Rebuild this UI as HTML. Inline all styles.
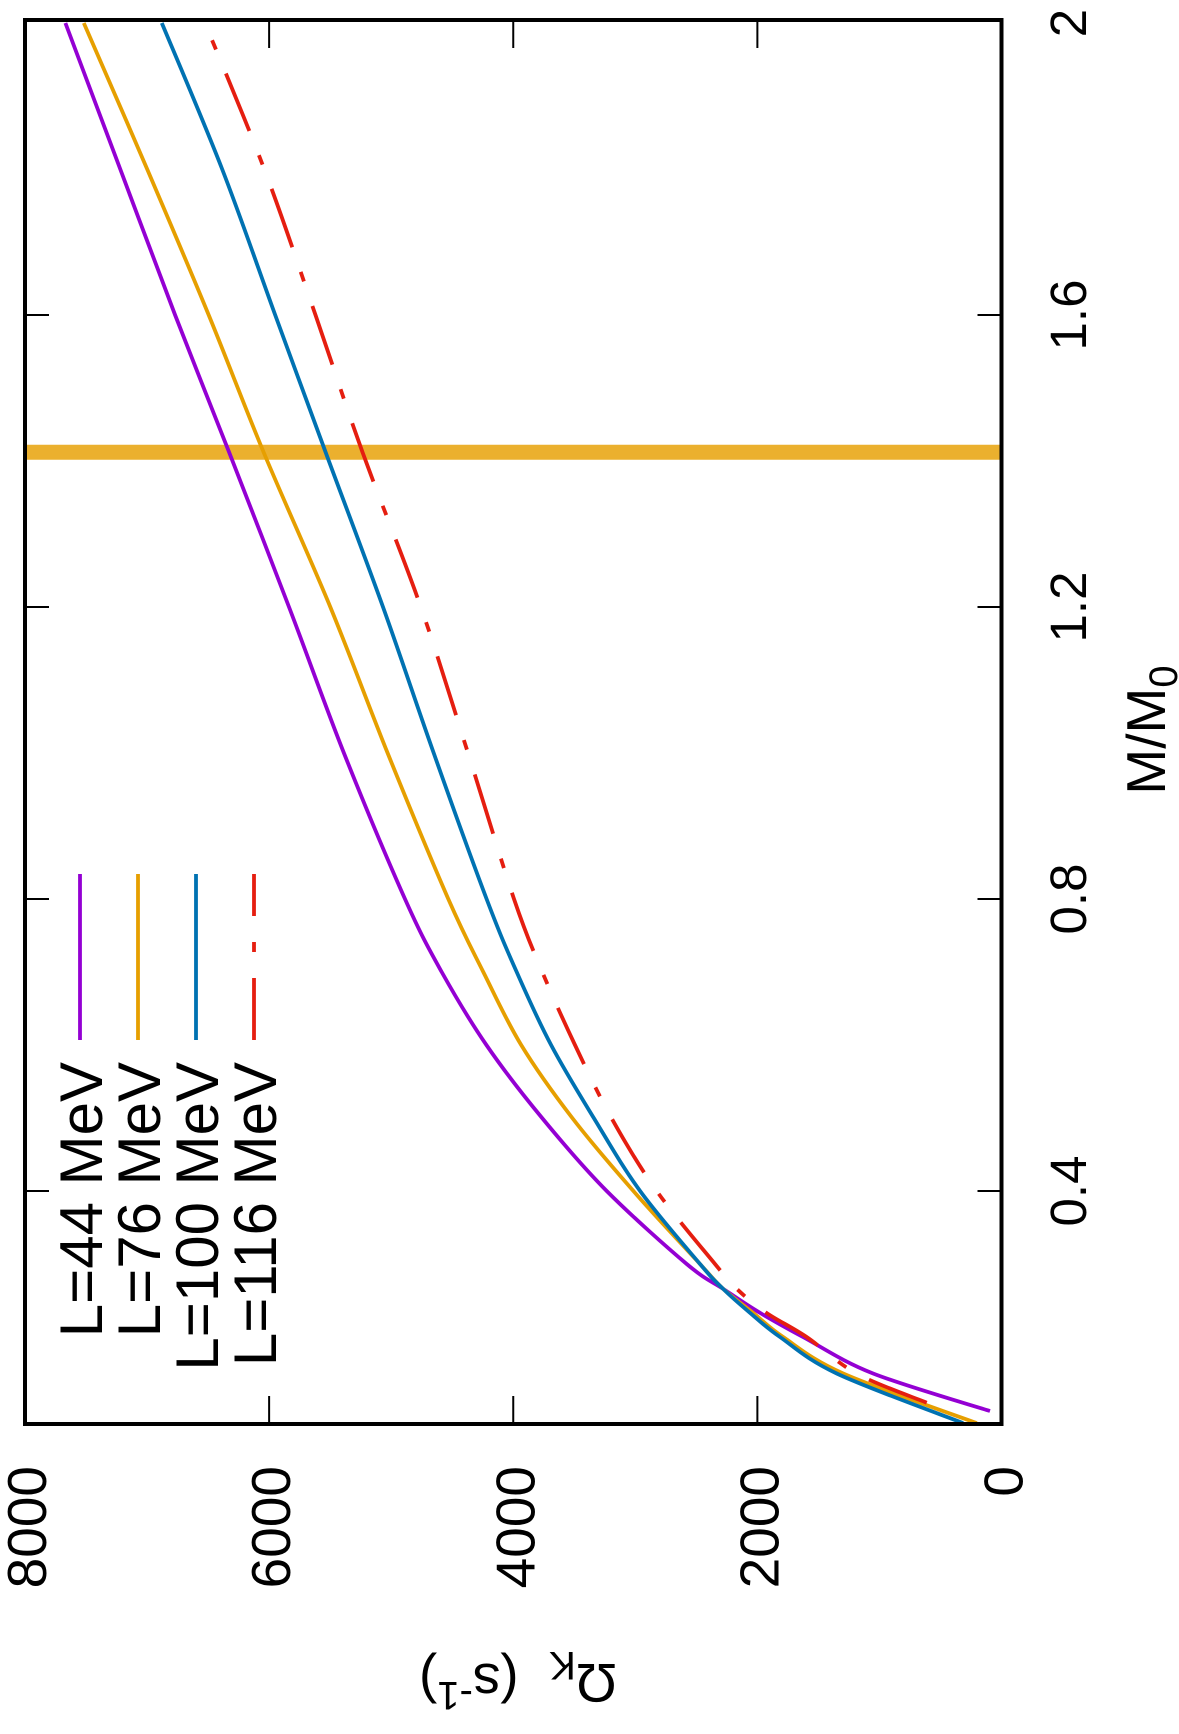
<!DOCTYPE html>
<html><head><meta charset="utf-8"><style>
html,body{margin:0;padding:0;background:#fff}
svg{display:block;font-family:"Liberation Sans",sans-serif}
</style></head><body>
<svg id="chart" width="1179" height="1734" viewBox="0 0 1179 1734" xmlns="http://www.w3.org/2000/svg"></svg>
<script>
const massesL44=[0.0986,0.15,0.2,0.233,0.266,0.3,0.4,0.5,0.6,0.7,0.8,1.0,1.2,1.412,1.6,1.8,2.0];
const omegaL44=[94,1052,1626,1978,2281,2579,3234,3764,4220,4586,4887,5387,5837,6328,6770,7220,7669];
const massesL76=[0.082,0.15,0.2,0.233,0.266,0.3,0.4,0.5,0.6,0.7,0.8,1.0,1.2,1.412,1.6,1.8,2.0];
const omegaL76=[202,1297,1789,2035,2281,2470,3016,3516,3935,4245,4532,5029,5499,6045,6495,7000,7518];
const massesL100=[0.082,0.15,0.2,0.233,0.266,0.3,0.4,0.5,0.6,0.7,0.8,1.0,1.2,1.412,1.6,1.8,2.0];
const omegaL100=[315,1350,1815,2060,2281,2470,2961,3340,3690,3972,4218,4652,5067,5537,5950,6385,6879];
const massesL116=[0.11,0.15,0.2,0.233,0.266,0.3,0.4,0.5,0.6,0.7,0.8,1.0,1.2,1.412,1.6,1.8,2.0];
const omegaL116=[613,1188,1597,1925,2169,2347,2825,3195,3494,3762,3994,4371,4757,5235,5620,6040,6525];
const omegaTicks=[0,2000,4000,6000,8000];
const massTicks=[0.4,0.8,1.2,1.6,2];
const massTickLabels=["0.4","0.8","1.2","1.6","2"];
const seriesNames=["L=44 MeV","L=76 MeV","L=100 MeV","L=116 MeV"];
const markerMass=1.412;

const NS="http://www.w3.org/2000/svg";
const svg=document.getElementById('chart');
const L=25,R=1001.5,T=20,B=1424;
function X(o){return R-o*(R-L)/8000;}
function Y(m){return 1191-(m-0.4)*730;}
function el(t,a){const e=document.createElementNS(NS,t);for(const k in a)e.setAttribute(k,a[k]);svg.appendChild(e);return e;}
function smooth(pts){
  let d='M'+pts[0][0].toFixed(1)+','+pts[0][1].toFixed(1);
  for(let i=0;i<pts.length-1;i++){
    const p0=pts[Math.max(0,i-1)],p1=pts[i],p2=pts[i+1],p3=pts[Math.min(pts.length-1,i+2)];
    const c1=[p1[0]+(p2[0]-p0[0])/6,p1[1]+(p2[1]-p0[1])/6];
    const c2=[p2[0]-(p3[0]-p1[0])/6,p2[1]-(p3[1]-p1[1])/6];
    d+='C'+c1[0].toFixed(1)+','+c1[1].toFixed(1)+' '+c2[0].toFixed(1)+','+c2[1].toFixed(1)+' '+p2[0].toFixed(1)+','+p2[1].toFixed(1);
  }
  return d;
}

const band=el('line',{x1:L,x2:R,y1:Y(markerMass),y2:Y(markerMass),stroke:'#ebb02e','stroke-width':15});



const colors=['#9400d3','#e69f00','#0072b2','#e51e10'];
const data=[[massesL44,omegaL44],[massesL76,omegaL76],[massesL100,omegaL100],[massesL116,omegaL116]];
const ids=['curve-l44','curve-l76','curve-l100','curve-l116'];
data.forEach((d,i)=>{
  const pts=d[0].map((m,j)=>[X(d[1][j]),Y(m)]);
  const a={d:smooth(pts),fill:'none',stroke:colors[i],'stroke-width':3.8,'stroke-linejoin':'round'};
  if(i==3)a['stroke-dasharray']='62 26 10 26';
  const e=el('path',a);
  
  
});

const fr=el('rect',{x:L,y:T,width:R-L,height:B-T,fill:'none',stroke:'#000','stroke-width':4});



omegaTicks.forEach(o=>{
  const x=X(o);
  if(o>0&&o<8000){
    const t1=el('line',{x1:x,x2:x,y1:B,y2:B-28,stroke:'#000','stroke-width':2});
    
    
    const t2=el('line',{x1:x,x2:x,y1:T,y2:T+28,stroke:'#000','stroke-width':2});
    
    
  }
  const tx=el('text',{x:0,y:0,transform:`translate(${x+21},1466) rotate(-90)`,'text-anchor':'end','font-size':55});
  tx.textContent=o;
  
  
});
massTicks.forEach((m,i)=>{
  const y=Y(m);
  if(m<2){
    const t1=el('line',{x1:L,x2:L+24,y1:y,y2:y,stroke:'#000','stroke-width':2});
    
    
    const t2=el('line',{x1:R,x2:R-24,y1:y,y2:y,stroke:'#000','stroke-width':2});
    
    
  }
  const tx=el('text',{x:0,y:0,transform:`translate(1086,${y}) rotate(-90)`,'text-anchor':'middle','font-size':51});
  tx.textContent=massTickLabels[i];
  
  
});

const xt=el('text',{x:0,y:0,transform:'translate(1165,730) rotate(-90)','text-anchor':'middle','font-size':55});
xt.innerHTML='M/M<tspan font-size="40" dy="12">0</tspan>';


const yt=el('text',{x:0,y:0,transform:'translate(518,1664) rotate(180)','text-anchor':'middle','font-size':55});
yt.innerHTML='Ω<tspan font-size="40" dy="12">K</tspan><tspan dy="-12" xml:space="preserve">  (s</tspan><tspan font-size="40" dy="-18">-1</tspan><tspan dy="18">)</tspan>';



const cols=[80,138,196,254];
seriesNames.forEach((n,i)=>{
  const x=cols[i];
  const a={x1:x,x2:x,y1:1040,y2:874,stroke:colors[i],'stroke-width':3.8};
  if(i==3)a['stroke-dasharray']='62 26 10 26';
  const ln=el('line',a);
  
  
  const tx=el('text',{x:0,y:0,transform:`translate(${x+22},1062) rotate(-90)`,'text-anchor':'end','font-size':60});
  tx.textContent=n;
  
  
});
</script>
</body></html>
